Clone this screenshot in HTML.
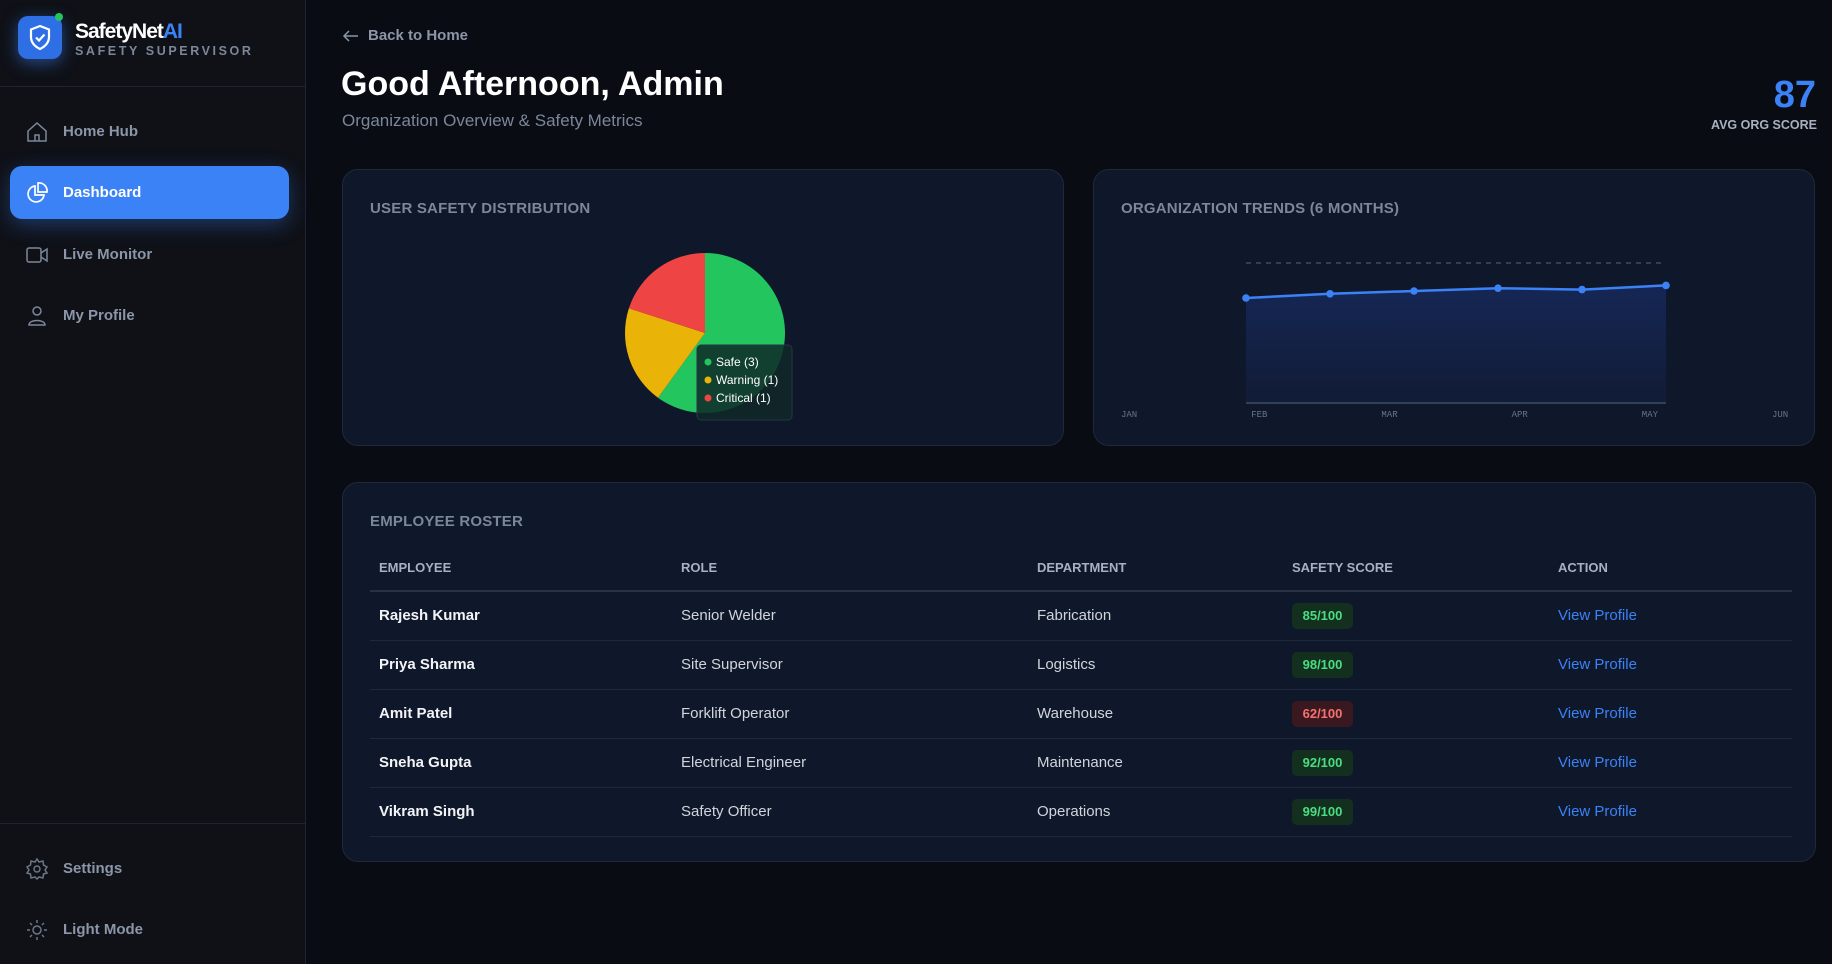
<!DOCTYPE html>
<html><head><meta charset="utf-8">
<style>
*{box-sizing:border-box;margin:0;padding:0}
body{width:1832px;height:964px;background:#0a0c13;font-family:"Liberation Sans",sans-serif;position:relative;overflow:hidden;color:#e5e7eb}
.abs{position:absolute}
#sidebar{left:0;top:0;width:306px;height:964px;background:#0f1117;border-right:1px solid #1e2433}
.nav{position:absolute;left:10px;width:279px;height:53px;border-radius:12px;display:flex;align-items:center;padding-left:15px;color:#8b96a8;font-weight:bold;font-size:15px}
.nav svg{width:24px;height:24px;margin-right:14px}
.nav.active{background:#3b82f6;color:#fff;box-shadow:0 6px 20px rgba(59,130,246,.35)}
.card{position:absolute;background:#0f172a;border:1px solid #1e293b;border-radius:16px}
.ctitle{position:absolute;left:27px;top:30px;font-size:15px;font-weight:bold;color:#7b879a;letter-spacing:.2px}
table{position:absolute;left:27px;top:62px;width:1422px;border-collapse:collapse;font-size:15px}
th{text-align:left;color:#a7b1c2;font-size:13px;font-weight:bold;height:46px;border-bottom:2px solid #263247;padding-left:9px}
td{height:49px;border-bottom:1px solid #1e293b;padding-left:9px;color:#d1d5db}
td.nm{font-weight:bold;color:#f3f4f6}
.badge{display:inline-block;width:61px;height:26px;line-height:26px;text-align:center;border-radius:5px;font-size:13px;font-weight:bold}
.ok{background:#13301f;color:#4ade80}.bad{background:#3a1820;color:#f87171}
.link{color:#3b82f6}
</style></head><body>
<div id="sidebar" class="abs">
  <div class="abs" style="left:18px;top:16px;width:44px;height:43px;border-radius:10px;background:#2f6fe6;box-shadow:0 4px 16px rgba(59,130,246,.5)">
    <svg width="44" height="43" viewBox="0 0 44 43"><path d="M22 10 L31 13.5 V21 C31 27 27 30.5 22 33 C17 30.5 13 27 13 21 V13.5 Z" fill="none" stroke="#fff" stroke-width="2.2"/><path d="M18 21.5 L21 24.5 L26.5 18.5" fill="none" stroke="#fff" stroke-width="2.2"/></svg>
    <div class="abs" style="left:37px;top:-3px;width:8px;height:8px;border-radius:50%;background:#22c55e"></div>
  </div>
  <div class="abs" style="left:75px;top:20px;font-size:21px;font-weight:bold;color:#fff;letter-spacing:-1px">SafetyNet<span style="color:#3b82f6">AI</span></div>
  <div class="abs" style="left:75px;top:44px;font-size:12.5px;font-weight:bold;color:#7b879a;letter-spacing:2.6px">SAFETY SUPERVISOR</div>
  <div class="abs" style="left:0;top:86px;width:306px;height:1px;background:#1e2433"></div>
  <div class="nav" style="top:105px"><svg viewBox="0 0 24 24" fill="none" stroke="#7b879a" stroke-width="1.5"><path d="M3 11 L12 3 L21 11 V21 H3 Z M10 21 V15 H14 V21"/></svg>Home Hub</div>
  <div class="nav active" style="top:166px"><svg viewBox="0 0 24 24" fill="none" stroke="#fff" stroke-width="1.7"><path d="M10 5 A8 8 0 1 0 19 14 H10 Z"/><path d="M13 2 A8 8 0 0 1 22 11 H13 Z"/></svg>Dashboard</div>
  <div class="nav" style="top:228px"><svg viewBox="0 0 24 24" fill="none" stroke="#7b879a" stroke-width="1.5"><rect x="2" y="5" width="14" height="14" rx="2"/><path d="M16 10 L22 6 V18 L16 14"/></svg>Live Monitor</div>
  <div class="nav" style="top:289px"><svg viewBox="0 0 24 24" fill="none" stroke="#7b879a" stroke-width="1.5"><circle cx="12" cy="7" r="4"/><path d="M4 21 C4 15 20 15 20 21 Z"/></svg>My Profile</div>
  <div class="abs" style="left:0;top:823px;width:306px;height:1px;background:#1e2433"></div>
  <div class="nav" style="top:842px"><svg viewBox="0 0 24 24" fill="none" stroke="#6b7689" stroke-width="1.5"><circle cx="12" cy="12" r="3"/><path d="M12 2 L14 5 L18 4 L18.5 8 L22 10 L20 13 L22 16 L18.5 17 L18 21 L14 20 L12 22 L10 20 L6 21 L5.5 17 L2 16 L4 13 L2 10 L5.5 8 L6 4 L10 5 Z"/></svg>Settings</div>
  <div class="nav" style="top:903px"><svg viewBox="0 0 24 24" fill="none" stroke="#6b7689" stroke-width="1.5"><circle cx="12" cy="12" r="4"/><path d="M12 2V5M12 19V22M2 12H5M19 12H22M5 5L7 7M17 17L19 19M5 19L7 17M17 7L19 5"/></svg>Light Mode</div>
</div>

<div class="abs" style="left:342px;top:27px;font-size:15px;font-weight:bold;color:#8b96a8;display:flex;align-items:center"><svg width="18" height="14" viewBox="0 0 18 14" style="margin-right:8px"><path d="M16 7H2M7 2L2 7L7 12" fill="none" stroke="#8b96a8" stroke-width="1.5"/></svg>Back to Home</div>
<div class="abs" style="left:341px;top:65px;font-size:34px;font-weight:bold;color:#fff">Good Afternoon, Admin</div>
<div class="abs" style="left:342px;top:111px;font-size:17px;color:#7b879a">Organization Overview &amp; Safety Metrics</div>
<div class="abs" style="right:16px;top:74px;font-size:38px;font-weight:bold;color:#3b82f6">87</div>
<div class="abs" style="right:15px;top:118px;font-size:12.5px;font-weight:bold;color:#a7b1c2">AVG ORG SCORE</div>

<div class="card" style="left:342px;top:169px;width:722px;height:277px">
  <div class="ctitle">USER SAFETY DISTRIBUTION</div>
  <svg id="pie" class="abs" style="left:0;top:0" width="722" height="277"></svg>
</div>

<div class="card" style="left:1093px;top:169px;width:722px;height:277px">
  <div class="ctitle">ORGANIZATION TRENDS (6 MONTHS)</div>
  <svg id="trend" class="abs" style="left:0;top:0" width="722" height="277"></svg>
</div>

<div class="card" style="left:342px;top:482px;width:1474px;height:380px">
  <div class="ctitle">EMPLOYEE ROSTER</div>
  <table>
    <tr><th style="width:302px">EMPLOYEE</th><th style="width:356px">ROLE</th><th style="width:255px">DEPARTMENT</th><th style="width:266px">SAFETY SCORE</th><th>ACTION</th></tr>
    <tr><td class="nm">Rajesh Kumar</td><td>Senior Welder</td><td>Fabrication</td><td><span class="badge ok">85/100</span></td><td><span class="link">View Profile</span></td></tr>
    <tr><td class="nm">Priya Sharma</td><td>Site Supervisor</td><td>Logistics</td><td><span class="badge ok">98/100</span></td><td><span class="link">View Profile</span></td></tr>
    <tr><td class="nm">Amit Patel</td><td>Forklift Operator</td><td>Warehouse</td><td><span class="badge bad">62/100</span></td><td><span class="link">View Profile</span></td></tr>
    <tr><td class="nm">Sneha Gupta</td><td>Electrical Engineer</td><td>Maintenance</td><td><span class="badge ok">92/100</span></td><td><span class="link">View Profile</span></td></tr>
    <tr><td class="nm">Vikram Singh</td><td>Safety Officer</td><td>Operations</td><td><span class="badge ok">99/100</span></td><td><span class="link">View Profile</span></td></tr>
  </table>
</div>

<script>
const pieLabels = ["Safe", "Warning", "Critical"];
const pieCounts = [3, 1, 1];
const pieColors = ["#22c55e", "#eab308", "#ef4444"];

const trendMonths = ["JAN", "FEB", "MAR", "APR", "MAY", "JUN"];
const trendValues = [75, 78, 80, 82, 81, 84];
const trendMax = 100;

const NS = "http://www.w3.org/2000/svg";
function mk(tag, attrs, parent){ const e=document.createElementNS(NS,tag); for(const k in attrs) e.setAttribute(k,attrs[k]); parent.appendChild(e); return e; }

(function(){
  const svg=document.getElementById('pie');
  const cx=362, cy=163, r=80;
  const total=pieCounts.reduce((a,b)=>a+b,0);
  let a0=0;
  pieCounts.forEach((v,i)=>{
    const a1=a0+v/total*Math.PI*2;
    const x0=cx+r*Math.sin(a0), y0=cy-r*Math.cos(a0);
    const x1=cx+r*Math.sin(a1), y1=cy-r*Math.cos(a1);
    const large=(a1-a0)>Math.PI?1:0;
    const p=mk('path',{d:`M${cx},${cy} L${x0},${y0} A${r},${r} 0 ${large} 1 ${x1},${y1} Z`,fill:pieColors[i]},svg);
    
    
    a0=a1;
  });
  const g=mk('g',{},svg);
  
  
  mk('rect',{x:354,y:175,width:95,height:75,rx:4,fill:'rgba(15,40,40,0.85)',stroke:'#2a3447'},g);
  pieLabels.forEach((l,i)=>{
    const y=192+i*18;
    const c=mk('circle',{cx:365,cy:y,r:3.5,fill:pieColors[i]},g);
    
    
    const t=mk('text',{x:373,y:y+4,fill:'#fff','font-size':12,'font-family':'Liberation Sans, sans-serif'},g);
    
    
    t.textContent=`${l} (${pieCounts[i]})`;
  });
})();

(function(){
  const svg=document.getElementById('trend');
  const x0=152, x1=572, yTop=93, yBase=233;
  const n=trendValues.length;
  const X=i=>x0+(x1-x0)*i/(n-1);
  const Y=v=>yBase-(v/trendMax)*(yBase-yTop);
  const defs=mk('defs',{},svg);
  const lg=mk('linearGradient',{id:'ag',x1:0,y1:0,x2:0,y2:1},defs);
  mk('stop',{offset:'0','stop-color':'#1e3a8a','stop-opacity':'0.45'},lg);
  mk('stop',{offset:'1','stop-color':'#1e3a8a','stop-opacity':'0.12'},lg);
  const dl=mk('line',{x1:x0,x2:x1,y1:Y(trendMax),y2:Y(trendMax),stroke:'#475569','stroke-dasharray':'5 5','stroke-width':1.2},svg);
  
  
  let pts=trendValues.map((v,i)=>`${X(i)},${Y(v)}`).join(' L');
  const area=mk('path',{d:`M${x0},${yBase} L${pts} L${x1},${yBase} Z`,fill:'url(#ag)'},svg);
  
  
  const bl=mk('line',{x1:x0,x2:x1,y1:yBase,y2:yBase,stroke:'#334155','stroke-width':2},svg);
  
  
  const line=mk('path',{d:`M${pts}`,fill:'none',stroke:'#3b82f6','stroke-width':2.5},svg);
  
  
  trendValues.forEach((v,i)=>{
    const c=mk('circle',{cx:X(i),cy:Y(v),r:3.8,fill:'#3b82f6'},svg);
    
    
  });
  trendMonths.forEach((m,i)=>{
    const t=mk('text',{x:27+130.2*i,y:247,fill:'#64748b','font-size':9,'font-family':'Liberation Mono, monospace'},svg);
    
    
    t.textContent=m;
  });
})();
</script>
</body></html>
